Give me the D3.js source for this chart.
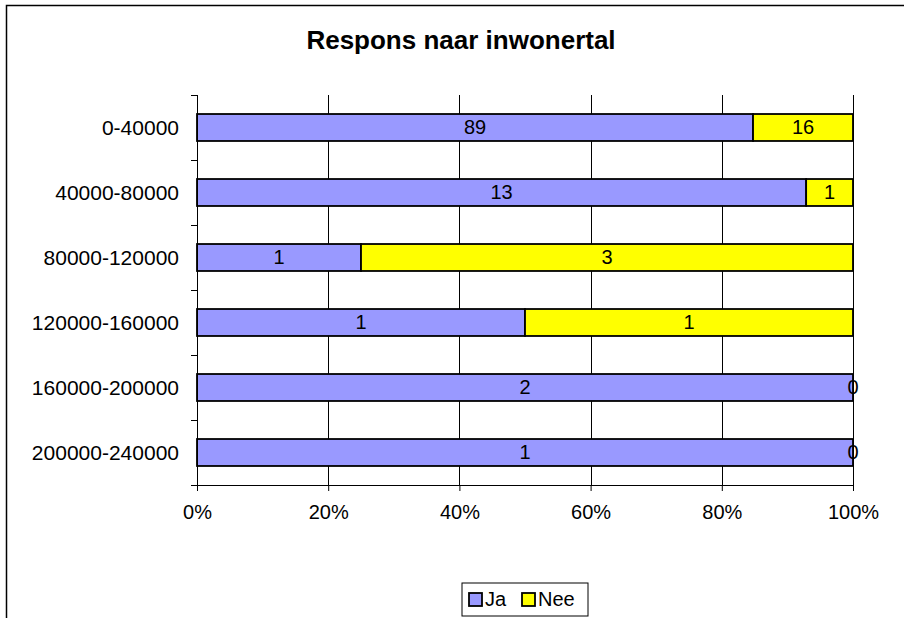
<!DOCTYPE html>
<html>
<head>
<meta charset="utf-8">
<script src="https://cdn.jsdelivr.net/npm/d3@7"></script>
<style>
  body { margin: 0; background: #fff; }
  text { font-family: "Liberation Sans", Arial, sans-serif; }
</style>
</head>
<body>
<div id="chart"></div>
<script>
// data
var categories = ["0-40000", "40000-80000", "80000-120000", "120000-160000", "160000-200000", "200000-240000"];
var ja_values = [89, 13, 1, 1, 2, 1];
var nee_values = [16, 1, 3, 1, 0, 0];
var series_names = ["Ja", "Nee"];
var x_ticks = [0, 0.2, 0.4, 0.6, 0.8, 1.0];

const svg_width = 904
const svg_height = 618
const plot_left = 197
const plot_right = 853
const plot_top = 95
const plot_bottom = 485

var colors = d3.scaleOrdinal().domain(series_names).range(["#9999FF", "#FFFF00"]);

var svg = d3.select('#chart').append('svg')
  .attr('width', svg_width)
  .attr('height', svg_height);

// outer chart border (runs past the right and bottom edge)
svg.append('rect')
  .attr('x', 6.5)
  .attr('y', 5.5)
  .attr('width', 1000)
  .attr('height', 700)
  .attr('fill', '#fff')
  .attr('stroke', '#000')
  .attr('stroke-width', 1.5);

// title
svg.append('text')
  .attr('x', 461)
  .attr('y', 49)
  .attr('text-anchor', 'middle')
  .style('font-size', '26px')
  .style('font-weight', 'bold')
  .text('Respons naar inwonertal');

var x_scale = d3.scaleLinear()
  .domain([0, 1])
  .range([plot_left, plot_right]);

var y_scale = d3.scaleBand()
  .domain(categories)
  .range([plot_top, plot_bottom])
  .paddingInner(0.585)
  .paddingOuter(0.2925);

// build the stacked table
var table = categories.map(function(c, i) {
  return { cat: c, Ja: ja_values[i], Nee: nee_values[i] };
});
var stack = d3.stack().keys(series_names)
  .offset(d3.stackOffsetExpand);
var stacked = stack(table);

// vertical gridlines
svg.append('g')
  .selectAll('line')
  .data(x_ticks.slice(1))
  .enter()
  .append('line')
  .attr('x1', function(d) { return Math.round(x_scale(d)) + 0.5; })
  .attr('x2', function(d) { return Math.round(x_scale(d)) + 0.5; })
  .attr('y1', plot_top)
  .attr('y2', plot_bottom)
  .attr('stroke', '#000')
  .attr('stroke-width', 1);

// bars
var layers = svg.append('g')
  .selectAll('g')
  .data(stacked)
  .enter()
  .append('g')
  .attr('fill', function(d) { return colors(d.key); });

layers.selectAll('rect')
  .data(function(d) { return d; })
  .enter()
  .append('rect')
  .attr('x', function(d) { return x_scale(d[0]); })
  .attr('y', function(d) { return y_scale(d.data.cat); })
  .attr('width', function(d) { return x_scale(d[1]) - x_scale(d[0]); })
  .attr('height', y_scale.bandwidth())
  .attr('stroke', '#000')
  .attr('stroke-width', 1.8);

// data labels
stacked.forEach(function(layer) {
  svg.append('g')
    .selectAll('text')
    .data(layer)
    .enter()
    .append('text')
    .attr('x', function(d) { return (x_scale(d[0]) + x_scale(d[1])) / 2; })
    .attr('y', function(d) { return y_scale(d.data.cat) + y_scale.bandwidth() / 2; })
    .attr('dy', '0.34em')
    .attr('text-anchor', 'middle')
    .style('font-size', '20px')
    .text(function(d) { return d.data[layer.key]; });
});

// y axis
var y_axis = svg.append('g')
  .attr('transform', `translate(${plot_left},0)`);
y_axis.append('line')
  .attr('x1', 0.5).attr('x2', 0.5)
  .attr('y1', plot_top).attr('y2', plot_bottom)
  .attr('stroke', '#000');
var boundaries = d3.range(categories.length + 1).map(function(i) {
  return plot_top + i * y_scale.step();
});
y_axis.selectAll('.ytick')
  .data(boundaries)
  .enter()
  .append('line')
  .attr('x1', -6).attr('x2', 0)
  .attr('y1', function(d) { return Math.round(d) + 0.5; })
  .attr('y2', function(d) { return Math.round(d) + 0.5; })
  .attr('stroke', '#000');
y_axis.selectAll('.ylabel')
  .data(categories)
  .enter()
  .append('text')
  .attr('x', -18)
  .attr('y', function(d) { return y_scale(d) + y_scale.bandwidth() / 2; })
  .attr('dy', '0.35em')
  .attr('text-anchor', 'end')
  .style('font-size', '21px')
  .text(function(d) { return d; });

// x axis
var x_axis = d3.axisBottom(x_scale)
  .tickValues(x_ticks)
  .tickFormat(d3.format('.0%'))
  .tickSizeInner(6)
  .tickSizeOuter(0)
  .tickPadding(14);
var x_g = svg.append('g')
  .attr('transform', `translate(0,${plot_bottom})`)
  .call(x_axis);
x_g.select('.domain')
  .attr('d', `M${plot_left - 6},0.5H${plot_right + 0.5}`)
  .attr('stroke', '#000');
x_g.selectAll('.tick line').attr('stroke', '#000');
x_g.selectAll('.tick text')
  .style('font-size', '20px')
  .style('font-family', '"Liberation Sans", Arial, sans-serif')
  .attr('fill', '#000');

// legend
var legend = svg.append('g')
  .attr('transform', 'translate(462,583)');
legend.append('rect')
  .attr('width', 126)
  .attr('height', 33)
  .attr('fill', '#fff')
  .attr('stroke', '#000')
  .attr('stroke-width', 1);
var legend_x = [7, 60];
series_names.forEach(function(name, i) {
  var item = legend.append('g')
    .attr('transform', `translate(${legend_x[i]},10)`);
  item.append('rect')
    .attr('width', 13)
    .attr('height', 13)
    .attr('fill', colors(name))
    .attr('stroke', '#000')
    .attr('stroke-width', 1.8);
  item.append('text')
    .attr('x', 16)
    .attr('y', 13)
    .style('font-size', '20px')
    .text(name);
});
</script>
</body>
</html>
